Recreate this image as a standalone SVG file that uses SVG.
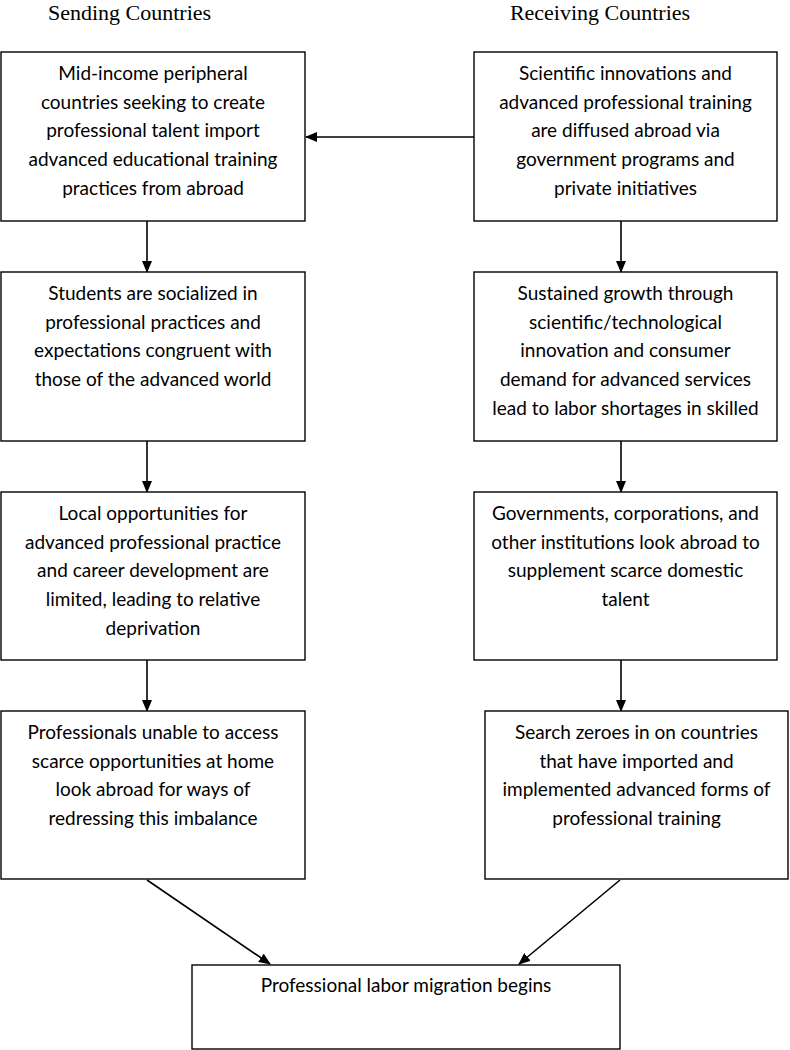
<svg xmlns="http://www.w3.org/2000/svg" width="790" height="1050" viewBox="0 0 790 1050">
<style>
.box{fill:#fff;stroke:#000;stroke-width:1.4}
.t{font-family:Lato,"Liberation Sans",sans-serif;font-size:19px;fill:#000;text-anchor:middle}
.h{font-family:"Liberation Serif","Times New Roman",serif;font-size:22px;fill:#000;text-anchor:middle}
.c{stroke:#000;stroke-width:1.6;fill:none;marker-end:url(#ah)}
</style>
<defs>
<marker id="ah" markerWidth="12" markerHeight="10" refX="11" refY="5" orient="auto" markerUnits="userSpaceOnUse">
<path d="M0,0 L12,5 L0,10 Z" fill="#000"/>
</marker>
</defs>
<rect width="790" height="1050" fill="#fff"/>
<text class="h" x="129.5" y="20">Sending Countries</text>
<text class="h" x="600" y="20">Receiving Countries</text>
<g id="connectors">
<line class="c" x1="474" y1="137" x2="306" y2="137"/>
<line class="c" x1="147" y1="221" x2="147" y2="272"/>
<line class="c" x1="147" y1="441" x2="147" y2="492"/>
<line class="c" x1="147" y1="660" x2="147" y2="711"/>
<line class="c" x1="621" y1="221" x2="621" y2="272"/>
<line class="c" x1="621" y1="441" x2="621" y2="492"/>
<line class="c" x1="621" y1="660" x2="621" y2="711"/>
<line class="c" x1="147" y1="880" x2="270" y2="964"/>
<line class="c" x1="620" y1="880" x2="519" y2="964"/>
</g>
<g id="L1">
<rect class="box" x="1" y="52" width="304" height="169"/>
<text class="t" x="153" y="80">Mid-income peripheral</text>
<text class="t" x="153" y="109">countries seeking to create</text>
<text class="t" x="153" y="137">professional talent import</text>
<text class="t" x="153" y="166">advanced educational training</text>
<text class="t" x="153" y="195">practices from abroad</text>
</g>
<g id="L2">
<rect class="box" x="1" y="272" width="304" height="169"/>
<text class="t" x="153" y="300">Students are socialized in</text>
<text class="t" x="153" y="329">professional practices and</text>
<text class="t" x="153" y="357">expectations congruent with</text>
<text class="t" x="153" y="386">those of the advanced world</text>
</g>
<g id="L3">
<rect class="box" x="1" y="492" width="304" height="168"/>
<text class="t" x="153" y="520">Local opportunities for</text>
<text class="t" x="153" y="549">advanced professional practice</text>
<text class="t" x="153" y="577">and career development are</text>
<text class="t" x="153" y="606">limited, leading to relative</text>
<text class="t" x="153" y="635">deprivation</text>
</g>
<g id="L4">
<rect class="box" x="1" y="711" width="304" height="168"/>
<text class="t" x="153" y="739">Professionals unable to access</text>
<text class="t" x="153" y="768">scarce opportunities at home</text>
<text class="t" x="153" y="796">look abroad for ways of</text>
<text class="t" x="153" y="825">redressing this imbalance</text>
</g>
<g id="R1">
<rect class="box" x="474" y="52" width="303" height="169"/>
<text class="t" x="625.5" y="80">Scientific innovations and</text>
<text class="t" x="625.5" y="109">advanced professional training</text>
<text class="t" x="625.5" y="137">are diffused abroad via</text>
<text class="t" x="625.5" y="166">government programs and</text>
<text class="t" x="625.5" y="195">private initiatives</text>
</g>
<g id="R2">
<rect class="box" x="474" y="272" width="303" height="169"/>
<text class="t" x="625.5" y="300">Sustained growth through</text>
<text class="t" x="625.5" y="329">scientific/technological</text>
<text class="t" x="625.5" y="357">innovation and consumer</text>
<text class="t" x="625.5" y="386">demand for advanced services</text>
<text class="t" x="625.5" y="415">lead to labor shortages in skilled</text>
</g>
<g id="R3">
<rect class="box" x="474" y="492" width="303" height="168"/>
<text class="t" x="625.5" y="520">Governments, corporations, and</text>
<text class="t" x="625.5" y="549">other institutions look abroad to</text>
<text class="t" x="625.5" y="577">supplement scarce domestic</text>
<text class="t" x="625.5" y="606">talent</text>
</g>
<g id="R4">
<rect class="box" x="485" y="711" width="303" height="168"/>
<text class="t" x="636.5" y="739">Search zeroes in on countries</text>
<text class="t" x="636.5" y="768">that have imported and</text>
<text class="t" x="636.5" y="796">implemented advanced forms of</text>
<text class="t" x="636.5" y="825">professional training</text>
</g>
<g id="B">
<rect class="box" x="192" y="965" width="428" height="84"/>
<text class="t" x="406" y="992">Professional labor migration begins</text>
</g>
</svg>
